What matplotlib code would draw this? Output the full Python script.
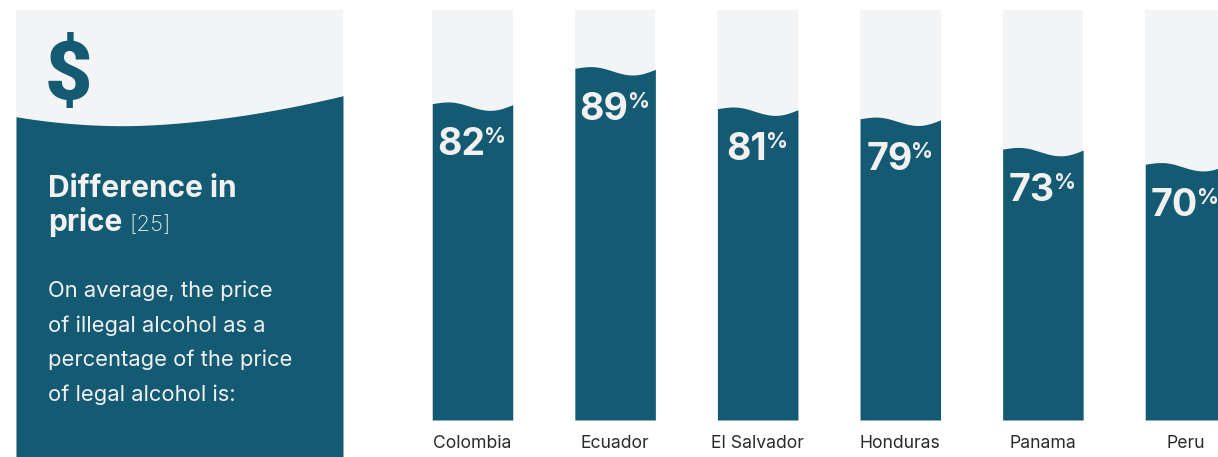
import numpy as np
import matplotlib
matplotlib.use("Agg")
import matplotlib.pyplot as plt

countries = ["Colombia", "Ecuador", "El Salvador", "Honduras", "Panama", "Peru"]
values = [82, 89, 81, 79, 73, 70]
title_lines = ["Difference in", "price"]
title_ref = "[25]"
body_lines = ["On average, the price", "of illegal alcohol as a",
              "percentage of the price", "of legal alcohol is:"]

TEAL = "#135A72"
LIGHT = "#F3F4F6"
TXT = "#F1F1F1"
W, H = 1218, 457
FONT = "Inter"

fig = plt.figure(figsize=(W / 100, H / 100), dpi=100, facecolor="white")

# left panel, in pixel coordinates
bg = fig.add_axes([0, 0, 1, 1])
bg.set_xlim(0, W)
bg.set_ylim(H, 0)
bg.axis("off")
bg.fill_between([16, 343], 10, H, color=LIGHT, lw=0)
px = np.linspace(16, 343, 200)
u = (px - 16) / 327
curve = np.where(u < 0.33,
                 125.7 - 9 * ((0.33 - u) / 0.33) ** 2,
                 125.7 - 30 * ((u - 0.33) / 0.67) ** 1.75)
bg.fill_between(px, curve, H, color=TEAL, lw=0)
bg.text(68.5, 99, "$", color=TEAL, fontsize=59, fontweight="black", family="Roboto",
        ha="center", va="baseline")
bg.text(48, 197, title_lines[0], color=TXT, fontsize=21.5, fontweight="bold",
        family=FONT, va="baseline")
bg.text(48, 231, title_lines[1], color=TXT, fontsize=21.5, fontweight="bold",
        family=FONT, va="baseline")
bg.text(129.5, 231, title_ref, color=TXT, fontsize=16, fontweight="light",
        family=FONT, va="baseline")
for y, line in zip([297, 332, 366, 401], body_lines):
    bg.text(48, y, line, color=TXT, fontsize=15.8, family=FONT, va="baseline")

# bars
STEP = 142.6
X0 = 472.5
PX_PER_UNIT = 5.05
BASE = 89 - (420 - 68.3) / PX_PER_UNIT
TOP = BASE + 410 / PX_PER_UNIT
BAR_W = 80.5 / STEP

ax = fig.add_axes([0, (H - 420) / H, 1, 410 / H])
ax.patch.set_alpha(0)
ax.set_xlim(-X0 / STEP, (W - X0) / STEP)
ax.set_ylim(BASE, TOP)
for s in ax.spines.values():
    s.set_visible(False)
ax.set_yticks([])
xs = np.arange(len(countries))
ax.set_xticks(xs, countries, fontsize=12.7, color="#2b2b2b", family=FONT)
ax.tick_params(axis="x", length=0, pad=10.5)
ax.bar(xs, TOP - BASE, bottom=BASE, width=BAR_W, color=LIGHT, lw=0)


def wave(t):
    """downward pixel offset of the wavy bar top"""
    out = np.empty_like(t)
    a = t < 0.2
    b = (t >= 0.2) & (t < 0.72)
    c = t >= 0.72
    out[a] = -1.7 * np.sin(np.pi / 2 * t[a] / 0.2)
    out[b] = 2.5 - 4.2 * np.cos(np.pi * (t[b] - 0.2) / 0.52)
    out[c] = 1 + 5.7 * np.cos(np.pi / 2 * (t[c] - 0.72) / 0.28)
    return out


t = np.linspace(0, 1, 80)
renderer = fig.canvas.get_renderer()
for x, v in zip(xs, values):
    ax.fill_between(x - BAR_W / 2 + t * BAR_W, BASE, v - wave(t) / PX_PER_UNIT,
                    color=TEAL, lw=0)
    big = ax.annotate(str(v), (x, v), xytext=(0, -51.5), textcoords="offset pixels",
                      ha="left", va="baseline", color=TXT, fontsize=27,
                      fontweight="bold", family=FONT, annotation_clip=False)
    pct = ax.annotate("%", (x, v), xytext=(0, -39.5), textcoords="offset pixels",
                      ha="left", va="baseline", color=TXT, fontsize=15.5,
                      fontweight="bold", family=FONT, annotation_clip=False)
    w1 = big.get_window_extent(renderer).width
    w2 = pct.get_window_extent(renderer).width
    left = -(w1 + w2) / 2
    big.xyann = (left, -51.5)
    pct.xyann = (left + w1 - 1, -39.5)

fig.savefig("out.png", dpi=100, facecolor="white")
